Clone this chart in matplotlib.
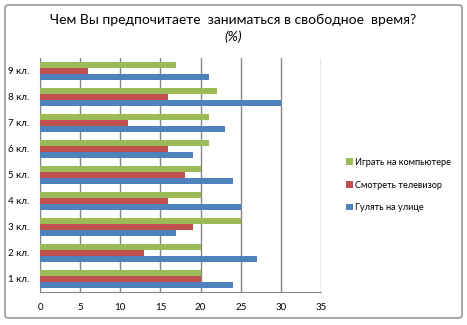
import matplotlib
matplotlib.use("Agg")
import matplotlib.pyplot as plt
from matplotlib.patches import FancyBboxPatch
import numpy as np

plt.rcParams['font.family'] = ['Lato', 'DejaVu Sans']

categories = ["1 кл.", "2 кл.", "3 кл.", "4 кл.", "5 кл.", "6 кл.", "7 кл.", "8 кл.", "9 кл."]
walk = [24, 27, 17, 25, 24, 19, 23, 30, 21]
tv = [20, 13, 19, 16, 18, 16, 11, 16, 6]
computer = [20, 20, 25, 20, 20, 21, 21, 22, 17]
series_names = ["Гулять на улице", "Смотреть телевизор", "Играть на компьютере"]
colors = ["#4F81BD", "#C0504D", "#9BBB59"]
xticks = [0, 5, 10, 15, 20, 25, 30, 35]

fig = plt.figure(figsize=(4.67, 3.25), dpi=100)
border = FancyBboxPatch((5/467, 7/325), 457/467, 313/325, boxstyle="round,pad=0,rounding_size=0.008",
                        transform=fig.transFigure, fill=False, edgecolor="#868686", linewidth=1)
fig.patches.append(border)

ax = fig.add_axes([40/467, 1-292/325, 281/467, 234/325])
y = np.arange(len(categories))
h = 0.22
handles = []
for i, (vals, name, c) in enumerate(zip([walk, tv, computer], series_names, colors)):
    b = ax.barh(y + (i - 1) * h, vals, height=h, color=c, label=name, zorder=3)
    handles.append(b)

ax.set_xlim(0, 35)
ax.set_ylim(-0.5, len(categories) - 0.5)
ax.set_xticks(xticks)
ax.set_yticks(y)
ax.set_yticklabels(categories)
ax.xaxis.grid(True, color="#868686", linewidth=1, zorder=0)
for s in ["top", "right"]:
    ax.spines[s].set_visible(False)
for s in ["left", "bottom"]:
    ax.spines[s].set_color("#868686")
ax.tick_params(axis="x", length=0, labelsize=7, pad=8, colors="#000000")
ax.tick_params(axis="y", length=0, labelsize=7, pad=8)

fig.text(0.5, 1-20/325, "Чем Вы предпочитаете  заниматься в свободное  время?", ha="center", va="center", fontsize=10)
fig.text(0.5, 1-37/325, "(%)", ha="center", va="center", fontsize=10, style="italic")

leg = fig.legend(handles[::-1], series_names[::-1], loc="center left", bbox_to_anchor=(338/467, 1-185/325),
                 frameon=False, fontsize=6.6, handlelength=0.7, handleheight=0.7, handletextpad=0.3,
                 labelspacing=1.5)

fig.savefig("out.png", dpi=100)
